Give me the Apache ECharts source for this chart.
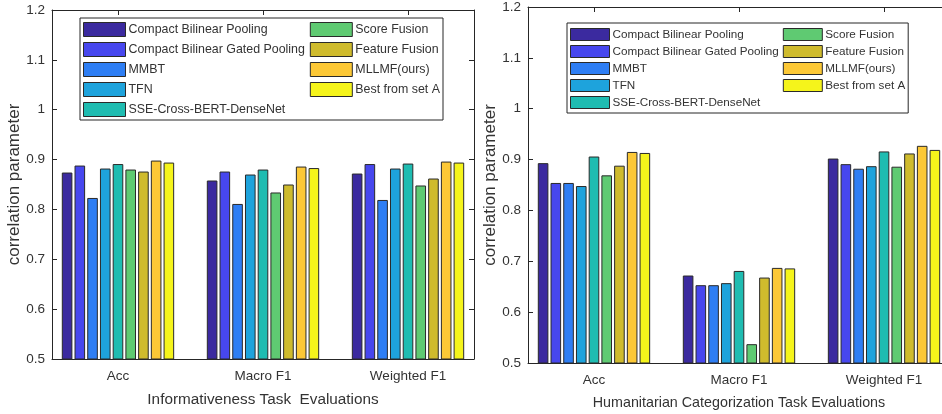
<!DOCTYPE html>
<html>
<head>
<meta charset="utf-8">
<script src="https://cdn.jsdelivr.net/npm/echarts@6/dist/echarts.min.js"></script>
<style>
  html, body { margin: 0; padding: 0; background: #fff; }
  #chart { width: 942px; height: 414px; }
</style>
</head>
<body>
<div id="chart"></div>
<script>
// data
const categories = ['Acc', 'Macro F1', 'Weighted F1']
const methods = [
  'Compact Bilinear Pooling',
  'Compact Bilinear Gated Pooling',
  'MMBT',
  'TFN',
  'SSE-Cross-BERT-DenseNet',
  'Score Fusion',
  'Feature Fusion',
  'MLLMF(ours)',
  'Best from set A'
]
const yTicks = [0.5, 0.6, 0.7, 0.8, 0.9, 1, 1.1, 1.2]

// Informativeness task
const infoAcc = [0.874, 0.888, 0.823, 0.882, 0.891, 0.880, 0.876, 0.898, 0.894]
const infoMacro = [0.858, 0.876, 0.811, 0.870, 0.880, 0.834, 0.850, 0.886, 0.883]
const infoWeighted = [0.872, 0.891, 0.819, 0.882, 0.892, 0.848, 0.862, 0.896, 0.894]

// Humanitarian categorization task
const humAcc = [0.893, 0.854, 0.854, 0.848, 0.906, 0.869, 0.888, 0.915, 0.913]
const humMacro = [0.672, 0.653, 0.653, 0.657, 0.681, 0.537, 0.668, 0.687, 0.686]
const humWeighted = [0.902, 0.891, 0.882, 0.887, 0.916, 0.886, 0.912, 0.927, 0.919]

const colors = ['#3b2a9f', '#4747ee', '#2e7ef4', '#1ea3dc', '#1fbcb1', '#5fca72', '#cfbb2d', '#fcc836', '#f5f41b']

const font = '"Liberation Sans", Arial, sans-serif'
const ink = '#262626'
const textInk = '#333'

let chart = echarts.init(document.getElementById('chart'))

// one panel = bottom/left axes with labels + top/right axes for the box
function panelAxes (gridIndex, xName, xNameSize, nameGapY) {
  let xBottom = {
    type: 'value',
    gridIndex: gridIndex,
    position: 'bottom',
    min: 0.545,
    max: 3.455,
    splitLine: { show: false },
    axisLine: { show: true, lineStyle: { color: ink, width: 1 } },
    axisTick: { show: true, inside: true, length: 5, customValues: [1, 2, 3], lineStyle: { color: ink } },
    axisLabel: {
      customValues: [1, 2, 3],
      formatter: v => categories[Math.round(v) - 1] || '',
      color: textInk,
      fontFamily: font,
      fontSize: 13.5,
      margin: 10
    },
    name: xName,
    nameLocation: 'middle',
    nameGap: 33,
    nameTextStyle: { color: textInk, fontFamily: font, fontSize: xNameSize }
  }
  let xTop = {
    type: 'value',
    gridIndex: gridIndex,
    position: 'top',
    min: 0.545,
    max: 3.455,
    splitLine: { show: false },
    axisLine: { show: true, lineStyle: { color: ink, width: 1 } },
    axisTick: { show: true, inside: true, length: 5, customValues: [1, 2, 3], lineStyle: { color: ink } },
    axisLabel: { show: false }
  }
  let yLeft = {
    type: 'value',
    gridIndex: gridIndex,
    position: 'left',
    min: 0.5,
    max: 1.2,
    interval: 0.1,
    splitLine: { show: false },
    axisLine: { show: true, lineStyle: { color: ink, width: 1 } },
    axisTick: { show: true, inside: true, length: 5, lineStyle: { color: ink } },
    axisLabel: {
      color: textInk,
      fontFamily: font,
      fontSize: 13.5,
      margin: 7,
      formatter: v => String(yTicks.find(t => Math.abs(t - v) < 1e-6) ?? v)
    },
    name: 'correlation parameter',
    nameLocation: 'middle',
    nameRotate: 90,
    nameGap: nameGapY,
    nameTextStyle: { color: textInk, fontFamily: font, fontSize: 17 }
  }
  let yRight = {
    type: 'value',
    gridIndex: gridIndex,
    position: 'right',
    min: 0.5,
    max: 1.2,
    interval: 0.1,
    splitLine: { show: false },
    axisLine: { show: true, lineStyle: { color: ink, width: 1 } },
    axisTick: { show: true, inside: true, length: 5, lineStyle: { color: ink } },
    axisLabel: { show: false }
  }
  return { x: [xBottom, xTop], y: [yLeft, yRight] }
}

let leftAxes = panelAxes(0, 'Informativeness Task  Evaluations', 15.3, 26)
let rightAxes = panelAxes(1, 'Humanitarian Categorization Task Evaluations', 14.3, 23)

let series = []
let panels = [
  [infoAcc, infoMacro, infoWeighted],
  [humAcc, humMacro, humWeighted]
]
panels.forEach((vals, p) => {
  for (let i = 0; i < methods.length; i++) {
    series.push({
      type: 'bar',
      name: methods[i],
      xAxisIndex: p * 2,
      yAxisIndex: p * 2,
      barWidth: 10.6,
      barGap: '20%',
      itemStyle: { color: colors[i], borderColor: '#2a2a2a', borderWidth: 1 },
      emphasis: { disabled: true },
      data: [[1, vals[0][i]], [2, vals[1][i]], [3, vals[2][i]]]
    })
  }
})

let legendBase = {
  orient: 'vertical',
  icon: 'rect',
  selectedMode: false,
  backgroundColor: '#fff',
  borderColor: ink,
  borderWidth: 1,
  itemStyle: { borderColor: '#2a2a2a', borderWidth: 1 },
  data: methods
}

let option = {
  animation: false,
  color: colors,
  grid: [
    { left: 52, right: 468, top: 10, bottom: 55, outerBoundsMode: 'none' },
    { left: 528, right: -8, top: 7, bottom: 51, outerBoundsMode: 'none' }
  ],
  legend: [
    Object.assign({}, legendBase, {
      left: 80,
      top: 18,
      height: 105,
      itemWidth: 42,
      itemHeight: 14,
      itemGap: 5,
      padding: [4, 3, 3, 3],
      textStyle: { color: textInk, fontFamily: font, fontSize: 12.4, padding: [0, 0, 0, -2] }
    }),
    Object.assign({}, legendBase, {
      left: 567,
      top: 23,
      height: 88,
      itemWidth: 39,
      itemHeight: 12,
      itemGap: 4,
      padding: [5, 3, 4, 3],
      textStyle: { color: textInk, fontFamily: font, fontSize: 11.7, padding: [0, 0, 0, -2] }
    })
  ],
  xAxis: leftAxes.x.concat(rightAxes.x),
  yAxis: leftAxes.y.concat(rightAxes.y),
  series: series
}

chart.setOption(option)
</script>
</body>
</html>
